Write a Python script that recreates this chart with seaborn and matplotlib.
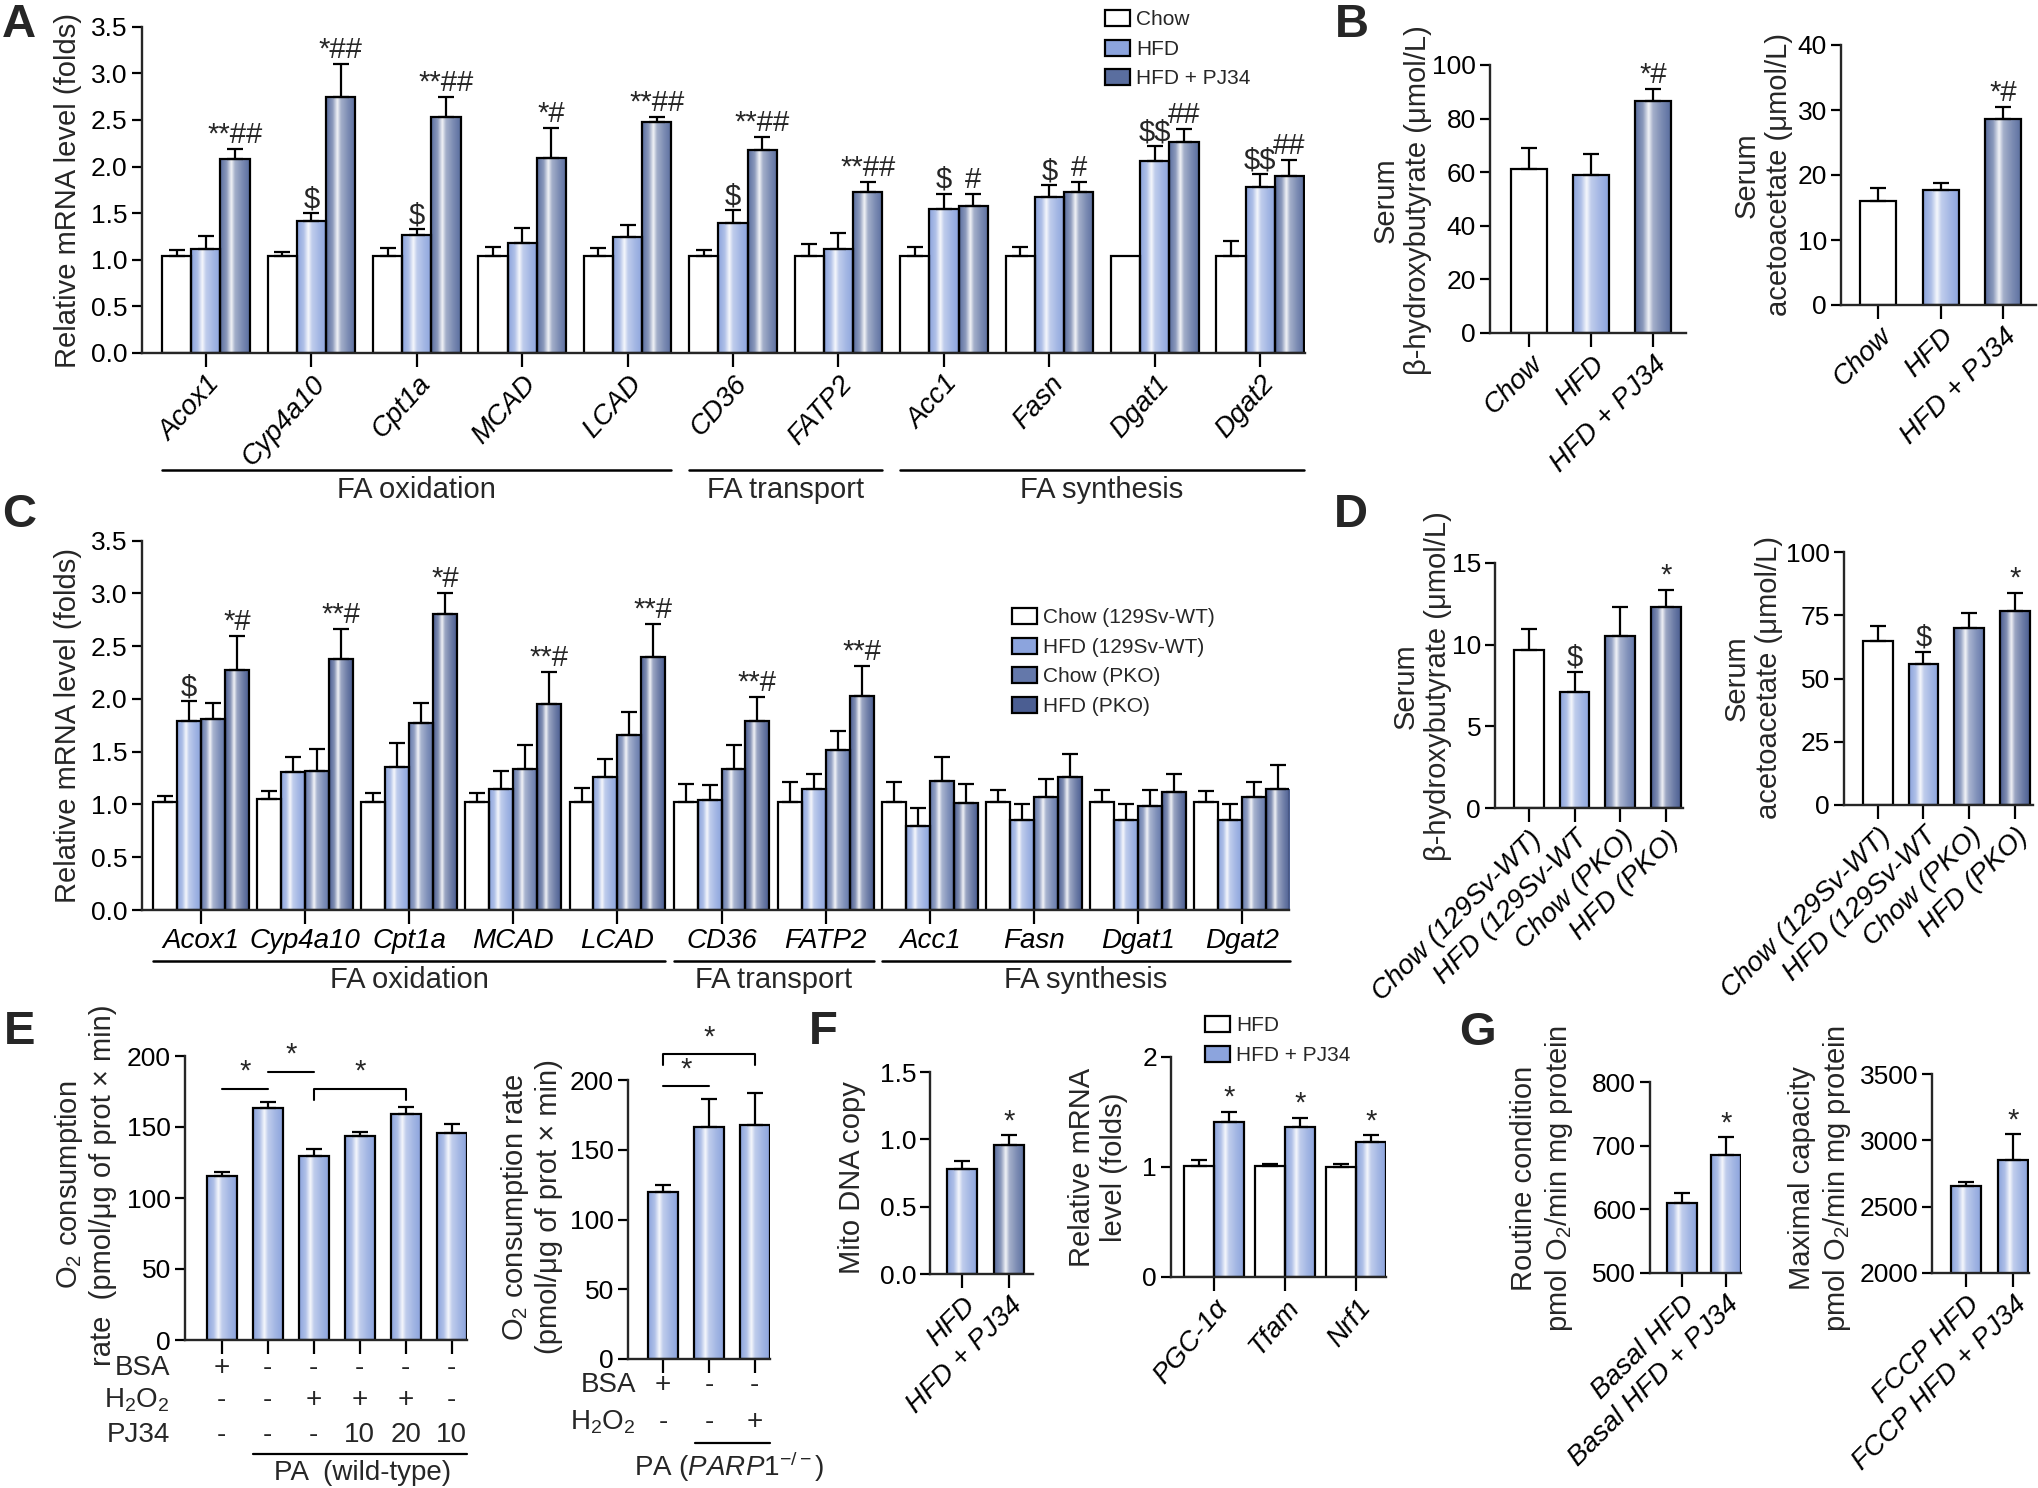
import matplotlib
matplotlib.use("Agg")
import matplotlib.pyplot as plt
import matplotlib.colors as mcolors
from matplotlib.patches import Patch
import numpy as np
import pandas as pd
import seaborn as sns

sns.set_style("ticks")
plt.rcParams["font.family"] = ["Liberation Sans", "DejaVu Sans"]
plt.rcParams["mathtext.fontset"] = "custom"
plt.rcParams["mathtext.rm"] = "Liberation Sans"
plt.rcParams["mathtext.it"] = "Liberation Sans:italic"
plt.rcParams["mathtext.bf"] = "Liberation Sans:bold"

# colours
WHITE = "#ffffff"
LIGHT = "#8ca4dd"
DARK = "#5a6e9f"
KO_CHOW = "#6478aa"
KO_HFD = "#4b5e92"

#%% data
# A - liver mRNA, Chow / HFD / HFD + PJ34
a_genes = ["Acox1", "Cyp4a10", "Cpt1a", "MCAD", "LCAD", "CD36", "FATP2", "Acc1", "Fasn", "Dgat1", "Dgat2"]
a_groups = ["Chow", "HFD", "HFD + PJ34"]
a_chow = [1.04, 1.04, 1.04, 1.04, 1.04, 1.04, 1.04, 1.04, 1.04, 1.04, 1.04]
a_chow_err = [0.07, 0.04, 0.09, 0.10, 0.09, 0.07, 0.13, 0.10, 0.10, 0.0, 0.16]
a_hfd = [1.12, 1.42, 1.27, 1.18, 1.24, 1.39, 1.12, 1.54, 1.67, 2.06, 1.78]
a_hfd_err = [0.14, 0.08, 0.06, 0.16, 0.135, 0.14, 0.17, 0.17, 0.13, 0.16, 0.14]
a_pj34 = [2.08, 2.75, 2.53, 2.09, 2.48, 2.175, 1.725, 1.575, 1.725, 2.26, 1.90]
a_pj34_err = [0.11, 0.35, 0.22, 0.32, 0.05, 0.145, 0.105, 0.135, 0.105, 0.14, 0.17]
a_sig_hfd = ["", "$", "$", "", "", "$", "", "$", "$", "$$", "$$"]
a_sig_pj34 = ["**##", "*##", "**##", "*#", "**##", "**##", "**##", "#", "#", "##", "##"]
sections = ["FA oxidation", "FA transport", "FA synthesis"]
section_first = [0, 5, 7]
section_last = [4, 6, 10]

# B - serum ketones
b_groups = ["Chow", "HFD", "HFD + PJ34"]
b_bhb = [61.1, 59.1, 86.4]
b_bhb_err = [7.9, 7.7, 4.6]
b_aca = [16.0, 17.7, 28.6]
b_aca_err = [2.0, 1.1, 1.9]
b_sig = ["", "", "*#"]

# C - PARP1 KO mRNA
c_groups = ["Chow (129Sv-WT)", "HFD (129Sv-WT)", "Chow (PKO)", "HFD (PKO)"]
c_chow_wt = [1.02, 1.05, 1.02, 1.02, 1.02, 1.02, 1.02, 1.02, 1.02, 1.02, 1.02]
c_chow_wt_err = [0.06, 0.08, 0.085, 0.085, 0.14, 0.17, 0.19, 0.19, 0.12, 0.12, 0.11]
c_hfd_wt = [1.79, 1.31, 1.36, 1.15, 1.26, 1.04, 1.15, 0.80, 0.85, 0.85, 0.85]
c_hfd_wt_err = [0.19, 0.14, 0.22, 0.17, 0.17, 0.14, 0.14, 0.17, 0.15, 0.15, 0.15]
c_chow_ko = [1.81, 1.32, 1.77, 1.34, 1.655, 1.34, 1.52, 1.22, 1.07, 0.99, 1.07]
c_chow_ko_err = [0.15, 0.21, 0.19, 0.22, 0.225, 0.22, 0.18, 0.23, 0.17, 0.15, 0.14]
c_hfd_ko = [2.27, 2.38, 2.81, 1.95, 2.40, 1.79, 2.03, 1.01, 1.26, 1.12, 1.15]
c_hfd_ko_err = [0.33, 0.28, 0.19, 0.305, 0.31, 0.23, 0.28, 0.18, 0.22, 0.17, 0.22]
c_sig_hfd_wt = ["$", "", "", "", "", "", "", "", "", "", ""]
c_sig_hfd_ko = ["*#", "**#", "*#", "**#", "**#", "**#", "**#", "", "", "", ""]

# D - serum ketones, PKO
d_groups = ["Chow (129Sv-WT)", "HFD (129Sv-WT", "Chow (PKO)", "HFD (PKO)"]
d_bhb = [9.67, 7.10, 10.55, 12.29]
d_bhb_err = [1.29, 1.23, 1.78, 1.08]
d_aca = [64.7, 55.6, 70.1, 76.8]
d_aca_err = [5.9, 4.9, 5.8, 7.1]
d_sig = ["", "$", "", "*"]

# E - O2 consumption
e_bsa = ["+", "-", "-", "-", "-", "-"]
e_h2o2 = ["-", "-", "+", "+", "+", "-"]
e_pj34 = ["-", "-", "-", "10", "20", "10"]
e_ocr = [115.5, 163.6, 129.6, 143.7, 159.4, 145.5]
e_ocr_err = [2.8, 4.2, 4.9, 2.6, 4.4, 6.4]
e_pairs = [(0, 1), (1, 2), (2, 4)]
e_pair_y = [177, 189, 177]
e_pair_bracket = [False, False, True]
e2_bsa = ["+", "-", "-"]
e2_h2o2 = ["-", "-", "+"]
e2_ocr = [119.7, 166.3, 168.0]
e2_ocr_err = [4.8, 20.3, 22.7]
e2_pairs = [(0, 1), (0, 2)]
e2_pair_y = [195.7, 218.6]
e2_pair_bracket = [False, True]

# F - mitochondrial biogenesis
f_groups = ["HFD", "HFD + PJ34"]
f_mito = [0.78, 0.96]
f_mito_err = [0.06, 0.07]
f_genes = ["PGC-1α", "Tfam", "Nrf1"]
f_hfd = [1.01, 1.01, 1.00]
f_hfd_err = [0.05, 0.02, 0.03]
f_pj34 = [1.41, 1.36, 1.23]
f_pj34_err = [0.09, 0.09, 0.06]

# G - respirometry
g_basal_lab = ["Basal HFD", "Basal HFD + PJ34"]
g_basal = [610.6, 685.0]
g_basal_err = [14.6, 28.0]
g_fccp_lab = ["FCCP HFD", "FCCP HFD + PJ34"]
g_fccp = [2657, 2848]
g_fccp_err = [30, 198]
g_sig = ["", "*"]
#%%

W, H = 2038, 1488
fig = plt.figure(figsize=(W / 100, H / 100), dpi=100)

TICK_FS = 19
XLAB_FS = 20
YLAB_FS = 21
SIG_FS = 21
TXT_FS = 20


def add_ax(x0, x1, ytop, ybot):
    ax = fig.add_axes([x0 / W, 1 - ybot / H, (x1 - x0) / W, (ybot - ytop) / H])
    ax.set_facecolor("none")
    return ax


def grad_cmap(base):
    b = np.array(mcolors.to_rgb(base))
    mix = lambda f: tuple(b + (1 - b) * f)
    stops = [(0, mix(0.0)), (0.22, mix(0.3)), (0.38, mix(0.92)), (0.5, mix(0.45)),
             (0.75, mix(0.2)), (1, mix(0.0))]
    return mcolors.LinearSegmentedColormap.from_list("bar", stops)


GRAD = np.linspace(0, 1, 120)[None, :]


def shade(ax, patches, colors, base=0):
    # cylinder-like gradient fill, clipped to each bar
    for p, c in zip(patches, colors):
        p.set_zorder(2)
        if c == WHITE:
            p.set_facecolor(WHITE)
            continue
        x0, w, h = p.get_x(), p.get_width(), p.get_height()
        im = ax.imshow(GRAD, cmap=grad_cmap(c), extent=(x0, x0 + w, base, h),
                       aspect="auto", zorder=1.9, interpolation="bilinear")
        im.set_clip_path(p)
        p.set_facecolor("none")


def errs(ax, patches, err, sig=None, fs=SIG_FS):
    for i, p in enumerate(patches):
        x = p.get_x() + p.get_width() / 2
        top = p.get_height()
        if err[i] > 0:
            ax.errorbar(x, top, yerr=[[0], [err[i]]], fmt="none", ecolor="black",
                        elinewidth=1.6, capsize=6, capthick=1.6, zorder=3)
        if sig is not None and sig[i]:
            ax.annotate(sig[i], (x, top + err[i]), xytext=(0, 0), textcoords="offset points",
                        ha="center", va="bottom", fontsize=fs, parse_math=False,
                        annotation_clip=False)


def simple_bars(ax, cats, vals, colors, width, base=0):
    df = pd.DataFrame({"grp": cats, "val": vals})
    sns.barplot(data=df, x="grp", y="val", hue="grp", order=cats, hue_order=cats,
                palette=colors, width=width, saturation=1, edgecolor="black",
                linewidth=1.6, errorbar=None, legend=False, ax=ax)
    pats = [p for c in ax.containers for p in c.patches]
    shade(ax, pats, colors, base)
    return pats


def grouped_bars(ax, cats, groups, series, colors, width):
    rows = []
    for g, vals in zip(groups, series):
        for c, v in zip(cats, vals):
            rows.append({"cat": c, "grp": g, "val": v})
    df = pd.DataFrame(rows)
    sns.barplot(data=df, x="cat", y="val", hue="grp", order=cats, hue_order=groups,
                palette=colors, width=width, saturation=1, edgecolor="black",
                linewidth=1.6, errorbar=None, legend=False, ax=ax)
    conts = [list(c.patches) for c in ax.containers]
    for k, pats in enumerate(conts):
        shade(ax, pats, [colors[k]] * len(pats))
    return conts


def style(ax, xlim, ylim, yticks, yfmt, ylab, lab_xy, xlabels=None, rot=45):
    sns.despine(ax=ax)
    ax.set_xlim(*xlim)
    ax.set_ylim(*ylim)
    ax.set_yticks(yticks)
    ax.set_yticklabels([yfmt.format(t) for t in yticks])
    ax.set_xlabel("")
    ax.set_ylabel(ylab, fontsize=YLAB_FS)
    ax.yaxis.set_label_coords(lab_xy[0] / W, 1 - lab_xy[1] / H, transform=fig.transFigure)
    for s in ax.spines.values():
        s.set_linewidth(1.7)
    ax.tick_params(axis="both", direction="out", width=1.6, labelsize=TICK_FS, pad=3, colors="black")
    ax.tick_params(axis="y", length=7)
    ax.tick_params(axis="x", length=10)
    if xlabels is None:
        ax.set_xticklabels([])
    elif rot:
        ax.set_xticklabels(xlabels, rotation=rot, ha="right", va="top", fontsize=XLAB_FS,
                           rotation_mode="anchor", fontstyle="italic")
    else:
        ax.set_xticklabels(xlabels, fontstyle="italic", fontsize=XLAB_FS)


def section_lines(ax, half, yline, ytext):
    tr = ax.get_xaxis_transform()
    for n, s, e in zip(sections, section_first, section_last):
        x0, x1 = s - half, e + half
        ax.plot([x0, x1], [yline, yline], color="black", lw=1.8, transform=tr, clip_on=False)
        ax.text((x0 + x1) / 2, ytext, n, transform=tr, ha="center", va="center", fontsize=21)


def legend(handles_cols, labels, x, y, fs=15):
    hs = [Patch(facecolor=c, edgecolor="black", linewidth=1.6, label=l)
          for c, l in zip(handles_cols, labels)]
    fig.legend(handles=hs, loc="upper left", bbox_to_anchor=(x / W, 1 - y / H), frameon=False,
               fontsize=fs, handlelength=1.2, handleheight=0.8, handletextpad=0.3,
               labelspacing=0.5, borderpad=0, borderaxespad=0)


def pair_marks(ax, pairs, ys, brackets, drop=8, lift=12):
    for (i, j), y, b in zip(pairs, ys, brackets):
        if b:
            ax.plot([i, i, j, j], [y - drop, y, y, y - drop], color="black", lw=1.5, clip_on=False)
        else:
            ax.plot([i, j], [y, y], color="black", lw=1.5, clip_on=False)
        ax.text((i + j) / 2, y + lift, "*", ha="center", va="center", fontsize=SIG_FS)


#%% A
axA = add_ax(141.6, 1304.5, 26.7, 353)
cols3 = [WHITE, LIGHT, DARK]
pa = grouped_bars(axA, a_genes, a_groups, [a_chow, a_hfd, a_pj34], cols3, 0.83)
errs(axA, pa[0], a_chow_err)
errs(axA, pa[1], a_hfd_err, a_sig_hfd)
errs(axA, pa[2], a_pj34_err, a_sig_pj34)
style(axA, (-0.61, 10.42), (0, 3.5), np.arange(0, 3.51, 0.5), "{:.1f}",
      "Relative mRNA level (folds)", (82, 190), a_genes, rot=48)
section_lines(axA, 0.415, -0.359, -0.42)
legend(cols3, a_groups, 1105, 10)

#%% B
axB1 = add_ax(1490, 1686, 65, 333)
pb = simple_bars(axB1, b_groups, b_bhb, cols3, 0.58)
errs(axB1, pb, b_bhb_err, b_sig)
style(axB1, (-0.63, 2.53), (0, 100), np.arange(0, 101, 20), "{:.0f}",
      "Serum\nβ-hydroxybutyrate (μmol/L)", (1432, 200), b_groups)

axB2 = add_ax(1841, 2036, 45, 305)
pb = simple_bars(axB2, b_groups, b_aca, cols3, 0.58)
errs(axB2, pb, b_aca_err, b_sig)
style(axB2, (-0.6, 2.53), (0, 40), np.arange(0, 41, 10), "{:.0f}",
      "Serum\nacetoacetate (μmol/L)", (1793, 175), b_groups)

#%% C
axC = add_ax(141.6, 1289, 540.7, 910)
cols4 = [WHITE, LIGHT, KO_CHOW, KO_HFD]
pc = grouped_bars(axC, a_genes, c_groups, [c_chow_wt, c_hfd_wt, c_chow_ko, c_hfd_ko], cols4, 0.92)
errs(axC, pc[0], c_chow_wt_err)
errs(axC, pc[1], c_hfd_wt_err, c_sig_hfd_wt)
errs(axC, pc[2], c_chow_ko_err)
errs(axC, pc[3], c_hfd_ko_err, c_sig_hfd_ko)
style(axC, (-0.57, 10.45), (0, 3.5), np.arange(0, 3.51, 0.5), "{:.1f}",
      "Relative mRNA level (folds)", (82, 725), a_genes, rot=0)
section_lines(axC, 0.46, -0.138, -0.19)
legend(cols4, c_groups, 1012, 608)

#%% D
axD1 = add_ax(1495, 1683, 563, 808)
pd1 = simple_bars(axD1, d_groups, d_bhb, cols4, 0.65)
errs(axD1, pd1, d_bhb_err, d_sig)
style(axD1, (-0.74, 3.37), (0, 15), np.arange(0, 16, 5), "{:.0f}",
      "Serum\nβ-hydroxybutyrate (μmol/L)", (1452, 686), d_groups)

axD2 = add_ax(1844, 2033, 552, 805)
pd2 = simple_bars(axD2, d_groups, d_aca, cols4, 0.65)
errs(axD2, pd2, d_aca_err, d_sig)
style(axD2, (-0.74, 3.4), (0, 100), np.arange(0, 101, 25), "{:.0f}",
      "Serum\nacetoacetate (μmol/L)", (1783, 678), d_groups)

#%% E
axE1 = add_ax(185, 467, 1056, 1340)
pe = simple_bars(axE1, [f"e{i}" for i in range(len(e_ocr))], e_ocr, [LIGHT] * len(e_ocr), 0.65)
errs(axE1, pe, e_ocr_err)
style(axE1, (-0.8, 5.33), (0, 200), np.arange(0, 201, 50), "{:.0f}",
      "O$_2$ consumption\nrate  (pmol/μg of prot × min)", (117, 1185))
pair_marks(axE1, e_pairs, e_pair_y, e_pair_bracket)
trE = axE1.get_xaxis_transform()
for lab, row, py in zip(["BSA", "H$_2$O$_2$", "PJ34"], [e_bsa, e_h2o2, e_pj34], [1368, 1400, 1435]):
    fig.text(170 / W, 1 - py / H, lab, ha="right", va="center", fontsize=TXT_FS)
    for i, v in enumerate(row):
        axE1.text(i, (1340 - py) / 284, v, transform=trE, ha="center", va="center", fontsize=TXT_FS)
axE1.plot([0.675, 5.33], [-0.401, -0.401], color="black", lw=1.6, transform=trE, clip_on=False)
axE1.text(3.05, -0.468, "PA  (wild-type)", transform=trE, ha="center", va="center", fontsize=TXT_FS)

axE2 = add_ax(628, 770, 1080, 1359)
pe2 = simple_bars(axE2, [f"p{i}" for i in range(len(e2_ocr))], e2_ocr, [LIGHT] * len(e2_ocr), 0.65)
errs(axE2, pe2, e2_ocr_err)
style(axE2, (-0.76, 2.33), (0, 200), np.arange(0, 201, 50), "{:.0f}",
      "O$_2$ consumption rate\n(pmol/μg of prot × min)", (563, 1207))
pair_marks(axE2, e2_pairs, e2_pair_y, e2_pair_bracket)
trE2 = axE2.get_xaxis_transform()
for lab, row, py in zip(["BSA", "H$_2$O$_2$"], [e2_bsa, e2_h2o2], [1385, 1422]):
    fig.text(636 / W, 1 - py / H, lab, ha="right", va="center", fontsize=TXT_FS)
    for i, v in enumerate(row):
        axE2.text(i, (1359 - py) / 279, v, transform=trE2, ha="center", va="center", fontsize=TXT_FS)
axE2.plot([0.7, 2.33], [-0.301, -0.301], color="black", lw=1.6, transform=trE2, clip_on=False)
axE2.text(1.45, -0.385, r"PA ($\mathit{PARP1}^{-/-}$)", transform=trE2, ha="center",
          va="center", fontsize=TXT_FS)

#%% F
axF1 = add_ax(930, 1033, 1072, 1274)
pf = simple_bars(axF1, f_groups, f_mito, [LIGHT, DARK], 0.64)
errs(axF1, pf, f_mito_err, ["", "*"])
style(axF1, (-0.68, 1.51), (0, 1.5), np.arange(0, 1.51, 0.5), "{:.1f}",
      "Mito DNA copy", (866, 1178), f_groups)

axF2 = add_ax(1171, 1386, 1057, 1277)
pf2 = grouped_bars(axF2, f_genes, f_groups, [f_hfd, f_pj34], [WHITE, LIGHT], 0.84)
errs(axF2, pf2[0], f_hfd_err)
errs(axF2, pf2[1], f_pj34_err, ["*"] * 3)
style(axF2, (-0.6, 2.42), (0, 2), [0, 1, 2], "{:.0f}",
      "Relative mRNA\nlevel (folds)", (1128, 1167), f_genes, rot=50)
legend([WHITE, LIGHT], f_groups, 1205, 1016)

#%% G
axG1 = add_ax(1650, 1741, 1082, 1273)
pg = simple_bars(axG1, g_basal_lab, g_basal, [LIGHT, LIGHT], 0.68, base=500)
errs(axG1, pg, g_basal_err, g_sig)
style(axG1, (-0.73, 1.34), (500, 800), np.arange(500, 801, 100), "{:.0f}",
      "Routine condition\npmol O$_2$/min mg protein", (1575, 1178), g_basal_lab)

axG2 = add_ax(1932, 2029, 1074, 1273)
pg2 = simple_bars(axG2, g_fccp_lab, g_fccp, [LIGHT, LIGHT], 0.64, base=2000)
errs(axG2, pg2, g_fccp_err, g_sig)
style(axG2, (-0.72, 1.34), (2000, 3500), np.arange(2000, 3501, 500), "{:.0f}",
      "Maximal capacity\npmol O$_2$/min mg protein", (1853, 1178), g_fccp_lab)

#%% panel letters
for letter, px, py in [("A", 19, 25), ("B", 1352, 25), ("C", 19, 515), ("D", 1351, 515),
                       ("E", 20, 1032), ("F", 823, 1032), ("G", 1477, 1033)]:
    fig.text(px / W, 1 - py / H, letter, fontsize=34, fontweight="bold", ha="center", va="center")

fig.savefig("out.png", dpi=100)
